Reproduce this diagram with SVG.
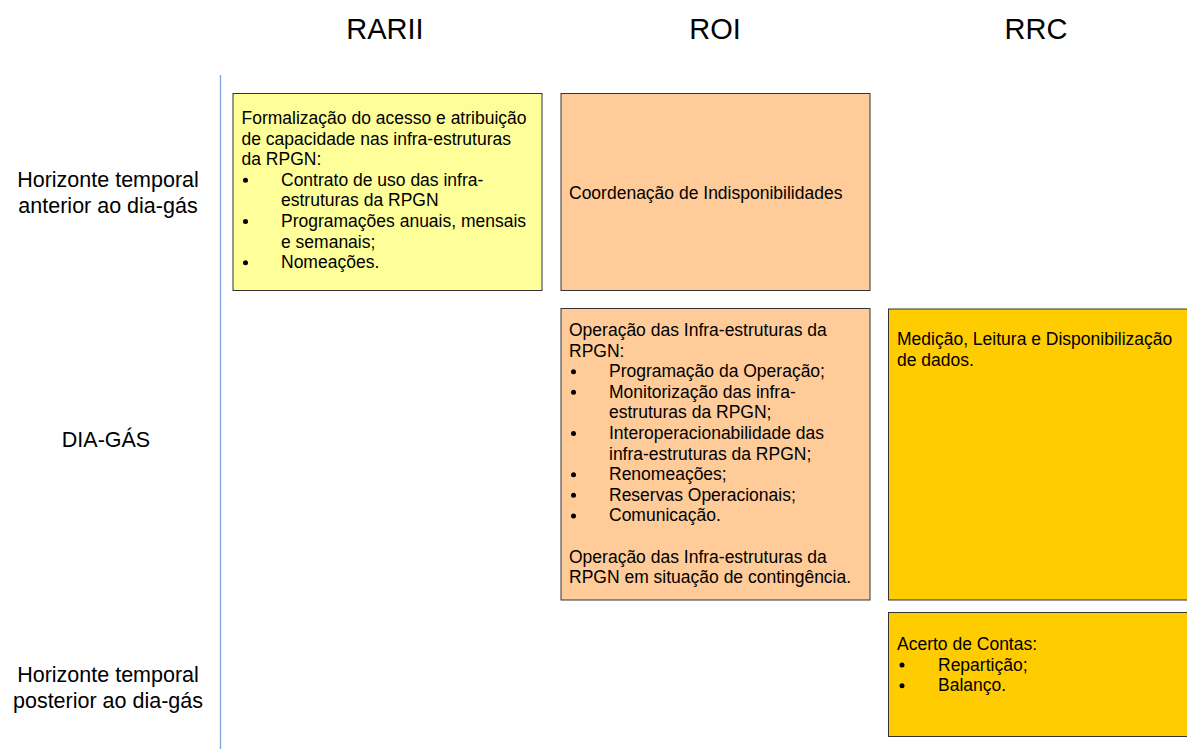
<svg xmlns="http://www.w3.org/2000/svg" width="1187" height="749" viewBox="0 0 1187 749">
<style>
text{font-family:"Liberation Sans",Arial,sans-serif;fill:#000}
.hdr{font-size:29px;text-anchor:middle}
.lbl{font-size:21.5px;text-anchor:middle}
.t{font-size:17.5px}
.box{stroke:#333;stroke-width:1}
.y1{fill:#FFFF99}
.or{fill:#FFCC99}
.gd{fill:#FFCC00}
.b{fill:#000}
</style>
<rect width="1187" height="749" fill="#fff"/>
<g id="headers">
<text class="hdr" x="385" y="39">RARII</text>
<text class="hdr" x="715" y="39">ROI</text>
<text class="hdr" x="1036" y="39">RRC</text>
</g>
<g id="row-labels">
<text class="lbl" x="108" y="187">Horizonte temporal</text>
<text class="lbl" x="108" y="213">anterior ao dia-gás</text>
<text class="lbl" x="106" y="447">DIA-GÁS</text>
<text class="lbl" x="108" y="682">Horizonte temporal</text>
<text class="lbl" x="108" y="708">posterior ao dia-gás</text>
</g>
<g id="separator">
<line x1="220.5" y1="75" x2="220.5" y2="749" stroke="#7BA0D6" stroke-width="1.2"/>
</g>
<g id="rarii-anterior">
<rect class="box y1" x="233" y="93.5" width="309" height="197"/>
<text class="t" x="241.5" y="124">Formalização do acesso e atribuição</text>
<text class="t" x="241.5" y="144.6">de capacidade nas infra-estruturas</text>
<text class="t" x="241.5" y="165.2">da RPGN:</text>
<circle class="b" cx="245.5" cy="180.3" r="2.5"/>
<text class="t" x="281" y="185.8">Contrato de uso das infra-</text>
<text class="t" x="281" y="206.4">estruturas da RPGN</text>
<circle class="b" cx="245.5" cy="221.5" r="2.5"/>
<text class="t" x="281" y="227">Programações anuais, mensais</text>
<text class="t" x="281" y="247.6">e semanais;</text>
<circle class="b" cx="245.5" cy="262.7" r="2.5"/>
<text class="t" x="281" y="268.2">Nomeações.</text>
</g>
<g id="roi-anterior">
<rect class="box or" x="561" y="93.5" width="309" height="197"/>
<text class="t" x="569" y="198.5">Coordenação de Indisponibilidades</text>
</g>
<g id="roi-dia-gas">
<rect class="box or" x="561" y="308.5" width="309" height="291.5"/>
<text class="t" x="569" y="336">Operação das Infra-estruturas da</text>
<text class="t" x="569" y="356.6">RPGN:</text>
<circle class="b" cx="573.5" cy="371.7" r="2.5"/>
<text class="t" x="609" y="377.2">Programação da Operação;</text>
<circle class="b" cx="573.5" cy="392.3" r="2.5"/>
<text class="t" x="609" y="397.8">Monitorização das infra-</text>
<text class="t" x="609" y="418.4">estruturas da RPGN;</text>
<circle class="b" cx="573.5" cy="433.5" r="2.5"/>
<text class="t" x="609" y="439">Interoperacionabilidade das</text>
<text class="t" x="609" y="459.6">infra-estruturas da RPGN;</text>
<circle class="b" cx="573.5" cy="474.7" r="2.5"/>
<text class="t" x="609" y="480.2">Renomeações;</text>
<circle class="b" cx="573.5" cy="495.3" r="2.5"/>
<text class="t" x="609" y="500.8">Reservas Operacionais;</text>
<circle class="b" cx="573.5" cy="515.9" r="2.5"/>
<text class="t" x="609" y="521.4">Comunicação.</text>
<text class="t" x="569" y="562.6">Operação das Infra-estruturas da</text>
<text class="t" x="569" y="583.2">RPGN em situação de contingência.</text>
</g>
<g id="rrc-dia-gas">
<rect class="box gd" x="888.5" y="309" width="305" height="291"/>
<text class="t" x="897" y="345">Medição, Leitura e Disponibilização</text>
<text class="t" x="897" y="365.6">de dados.</text>
</g>
<g id="rrc-posterior">
<rect class="box gd" x="888.5" y="612.5" width="305" height="124"/>
<text class="t" x="897" y="650">Acerto de Contas:</text>
<circle class="b" cx="902" cy="665.1" r="2.5"/>
<text class="t" x="938" y="670.6">Repartição;</text>
<circle class="b" cx="902" cy="685.7" r="2.5"/>
<text class="t" x="938" y="691.2">Balanço.</text>
</g>
</svg>
